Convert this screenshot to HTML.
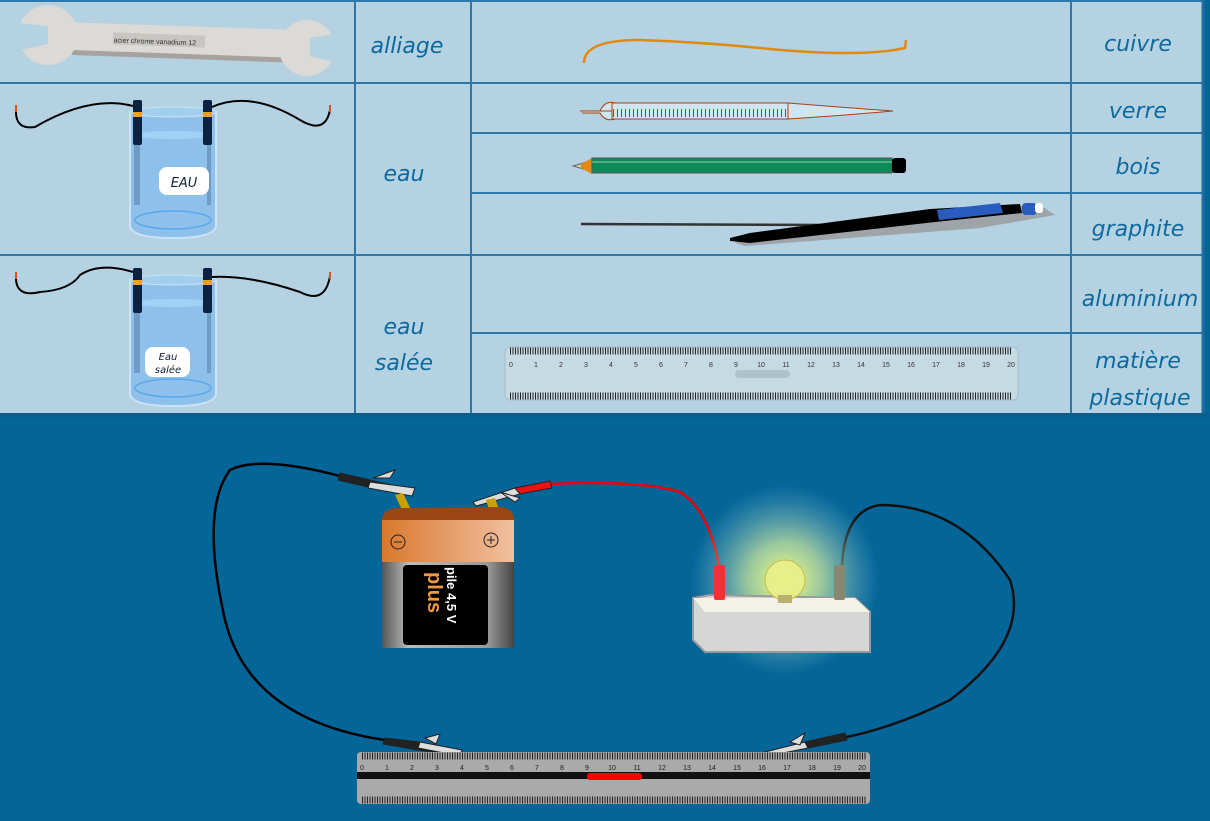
<!DOCTYPE html>
<html><head><meta charset="utf-8"><style>
html,body{margin:0;padding:0;background:#046598;}
svg{display:block}
.t{font-family:"DejaVu Sans","Liberation Sans",sans-serif;font-style:italic;fill:#0e6a9e;font-size:22px;text-anchor:middle}
</style></head><body>
<svg width="1210" height="821" viewBox="0 0 1210 821" xmlns="http://www.w3.org/2000/svg">
<defs>
<radialGradient id="glow" cx="0.5" cy="0.5" r="0.5">
<stop offset="0" stop-color="#f4ff80" stop-opacity="1"/>
<stop offset="0.4" stop-color="#d8f0a0" stop-opacity="0.7"/>
<stop offset="1" stop-color="#8cc6d8" stop-opacity="0"/>
</radialGradient>
<linearGradient id="cop" x1="0" x2="1"><stop offset="0" stop-color="#d9792e"/><stop offset="1" stop-color="#f1c0a0"/></linearGradient>
<linearGradient id="gr" x1="0" x2="1"><stop offset="0" stop-color="#555"/><stop offset="0.2" stop-color="#bbb"/><stop offset="0.8" stop-color="#999"/><stop offset="1" stop-color="#444"/></linearGradient>
</defs>
<rect width="1210" height="821" fill="#046598"/>
<!-- table -->
<rect x="0" y="0" width="1202" height="415" fill="#b4d2e2"/>
<g stroke="#2b78a9" stroke-width="2" fill="none">
<line x1="0" y1="1" x2="1202" y2="1"/>
<line x1="0" y1="83" x2="1202" y2="83"/>
<line x1="0" y1="255" x2="1202" y2="255"/>
<line x1="471" y1="133" x2="1202" y2="133"/>
<line x1="471" y1="193" x2="1202" y2="193"/>
<line x1="471" y1="333" x2="1202" y2="333"/>
<line x1="355" y1="0" x2="355" y2="415"/>
<line x1="471" y1="0" x2="471" y2="415"/>
<line x1="1071" y1="0" x2="1071" y2="415"/>
</g>
<line x1="1203" y1="0" x2="1203" y2="415" stroke="#1f6e9f" stroke-width="3"/>
<rect x="0" y="413" width="1210" height="4" fill="#0a5d8c"/>
<text class="t" x="407" y="53">alliage</text>
<text class="t" x="404" y="181">eau</text>
<text class="t" x="404" y="334">eau</text>
<text class="t" x="404" y="370">salée</text>
<text class="t" x="1138" y="51">cuivre</text>
<text class="t" x="1138" y="118">verre</text>
<text class="t" x="1138" y="174">bois</text>
<text class="t" x="1138" y="236">graphite</text>
<text class="t" x="1140" y="306">aluminium</text>
<text class="t" x="1138" y="368">matière</text>
<text class="t" x="1140" y="405">plastique</text>
<!-- wrench -->
<polygon points="60,22 300,30 300,62 60,52" fill="#dcdad6"/>
<polygon points="72,50 300,58 300,63 72,55" fill="#a8a29e"/>
<circle cx="48" cy="35" r="30" fill="#dcdad6"/>
<polygon points="12,22 48,26 48,44 12,52" fill="#b4d2e2"/>
<polygon points="0,10 18,14 20,20 0,22" fill="#b4d2e2"/>
<circle cx="307" cy="48" r="28" fill="#dcdad6"/>
<polygon points="345,32 310,38 310,56 345,65" fill="#b4d2e2"/>
<rect x="113" y="34" width="92" height="12" fill="#c8c6c0" transform="rotate(2 160 40)"/>
<text x="155" y="44" font-family="Liberation Sans" font-size="7" text-anchor="middle" fill="#333" transform="rotate(2 160 40)">acier chrome vanadium   12</text>
<!-- copper wire -->
<path d="M584,63 Q584,40 640,40 Q700,42 760,48 Q860,58 905,48 L906,40" fill="none" stroke="#e08a10" stroke-width="2.5"/>
<!-- beakers -->
<g id="bk">
<path d="M130,112 L130,225 Q130,238 173,238 Q216,238 216,225 L216,112 Z" fill="#8ec0ec" stroke="#cbe3f6" stroke-width="2"/>
<ellipse cx="173" cy="112" rx="43" ry="5" fill="#a3cfee" stroke="#cbe3f6"/>
<ellipse cx="173" cy="135" rx="40" ry="4" fill="#9fd2f6"/>
<rect x="134" y="140" width="6" height="65" fill="#6e9cc4"/>
<rect x="207" y="140" width="4" height="65" fill="#6e9cc4"/>
<ellipse cx="173" cy="220" rx="38" ry="9" fill="none" stroke="#5aa8e8" stroke-width="1.5"/>
<rect x="133" y="100" width="9" height="45" fill="#0c2240" rx="2"/>
<rect x="203" y="100" width="9" height="45" fill="#0c2240" rx="2"/>
<rect x="133" y="112" width="9" height="5" fill="#f0a020"/>
<rect x="203" y="112" width="9" height="5" fill="#f0a020"/>
</g>
<use href="#bk" transform="translate(0,168)"/>
<path d="M16,110 Q15,130 35,127 Q90,95 133,106" fill="none" stroke="#000" stroke-width="2"/>
<path d="M212,107 Q250,90 300,120 Q325,135 330,110" fill="none" stroke="#000" stroke-width="2"/>
<path d="M16,276 Q15,298 40,292 Q70,290 80,275 Q100,262 133,272" fill="none" stroke="#000" stroke-width="2"/>
<path d="M212,277 Q250,275 300,292 Q325,305 330,276" fill="none" stroke="#000" stroke-width="2"/>
<g stroke="#e05010" stroke-width="2"><line x1="16" y1="105" x2="16" y2="112"/><line x1="330" y1="105" x2="330" y2="112"/><line x1="16" y1="272" x2="16" y2="279"/><line x1="330" y1="272" x2="330" y2="279"/></g>
<rect x="159" y="167" width="50" height="28" rx="8" fill="#fff"/>
<text x="184" y="187" font-family="DejaVu Sans" font-style="italic" font-size="13" fill="#123" text-anchor="middle">EAU</text>
<rect x="145" y="347" width="45" height="30" rx="8" fill="#fff"/>
<text x="168" y="360" font-family="DejaVu Sans" font-style="italic" font-size="10" fill="#123" text-anchor="middle">Eau</text>
<text x="168" y="373" font-family="DejaVu Sans" font-style="italic" font-size="10" fill="#123" text-anchor="middle">salée</text>
<!-- burette -->
<path d="M582,111 L600,111 Q605,100 615,103 L788,103 Q850,108 893,111 Q850,115 788,119 L615,119 Q605,122 600,113 L582,113" fill="#cfe6f2" stroke="#a84010" stroke-width="1"/>
<rect x="612" y="103" width="176" height="16" fill="none" stroke="#a84010"/>
<line x1="613" y1="113" x2="788" y2="113" stroke="#a84010" stroke-width="8" stroke-dasharray="1 3"/>
<line x1="580" y1="111" x2="612" y2="111" stroke="#a84010"/>
<!-- pencil -->
<polygon points="573,166 590,161 590,171" fill="#ccc" stroke="#666"/>
<polygon points="581,164 592,158 592,174 581,168" fill="#e08a10"/>
<rect x="592" y="158" width="300" height="15" fill="#0d8a5a" stroke="#555"/>
<line x1="592" y1="162" x2="892" y2="162" stroke="#8fd0b0"/>
<rect x="892" y="158" width="14" height="15" rx="3" fill="#000"/>
<!-- graphite/pencil -->
<line x1="581" y1="224" x2="830" y2="225" stroke="#333" stroke-width="2.5"/>
<polygon points="735,243 760,233 935,210 1040,205 1055,215 980,228 745,246" fill="#999" opacity="0.8"/>
<polygon points="730,238 750,233 930,209 1020,204 1022,213 935,222 750,243 730,241" fill="#000"/>
<polygon points="937,210 1000,203 1003,213 939,220" fill="#2a5bbf"/>
<rect x="1022" y="203" width="15" height="12" rx="4" fill="#2a5bbf"/>
<rect x="1035" y="203" width="8" height="10" rx="3" fill="#fff"/>
<!-- ruler table -->
<rect x="505" y="347" width="513" height="53" rx="5" fill="#c6dae3" stroke="#aabbc4"/>
<line x1="510" y1="351" x2="1012" y2="351" stroke="#222" stroke-width="7" stroke-dasharray="1 1.5"/>
<line x1="510" y1="396" x2="1012" y2="396" stroke="#222" stroke-width="7" stroke-dasharray="1 1.5"/>
<g font-family="Liberation Sans" font-size="7" fill="#333" text-anchor="middle">
<text x="511" y="367">0</text><text x="536" y="367">1</text><text x="561" y="367">2</text><text x="586" y="367">3</text><text x="611" y="367">4</text><text x="636" y="367">5</text><text x="661" y="367">6</text><text x="686" y="367">7</text><text x="711" y="367">8</text><text x="736" y="367">9</text><text x="761" y="367">10</text><text x="786" y="367">11</text><text x="811" y="367">12</text><text x="836" y="367">13</text><text x="861" y="367">14</text><text x="886" y="367">15</text><text x="911" y="367">16</text><text x="936" y="367">17</text><text x="961" y="367">18</text><text x="986" y="367">19</text><text x="1011" y="367">20</text>
</g>
<rect x="735" y="370" width="55" height="8" rx="4" fill="#aec2cc"/>
<!-- circuit wires -->
<path d="M340,476 Q260,455 230,470 Q200,510 225,620 Q250,720 385,740" fill="none" stroke="#000" stroke-width="2.5"/>
<path d="M548,484 Q640,480 680,492 Q710,510 720,572" fill="none" stroke="#e00" stroke-width="2.5"/>
<path d="M842,565 Q845,510 880,505 Q960,505 1010,580 Q1030,640 950,700 Q880,735 815,742" fill="none" stroke="#111" stroke-width="2.5"/>
<!-- clips -->
<g fill="#ddd" stroke="#222" stroke-width="1">
<polygon points="340,473 370,480 412,490 412,496 368,487 338,480" fill="#222"/>
<polygon points="370,482 415,488 412,496 368,488"/>
<polygon points="373,478 395,470 390,478"/>
<polygon points="473,502 515,488 520,494 476,506"/>
<polygon points="500,492 520,498 515,502"/>
<polygon points="515,488 550,481 552,488 520,494" fill="#e11"/>
<polygon points="385,738 420,742 460,750 458,756 418,750 383,744" fill="#222"/>
<polygon points="420,742 462,750 460,756 418,748"/>
<polygon points="425,738 440,734 436,744"/>
<polygon points="765,752 805,742 808,748 768,756"/>
<polygon points="790,742 805,733 800,745"/>
<polygon points="805,742 845,733 847,740 808,748" fill="#222"/>
</g>
<!-- battery -->
<polygon points="395,495 403,493 412,512 403,512" fill="#c8a000"/>
<polygon points="486,500 495,498 500,512 490,512" fill="#c8a000"/>
<path d="M382,520 Q382,508 400,508 L500,507 Q514,508 514,520 L382,520 Z" fill="#9a4614"/>
<rect x="382" y="520" width="132" height="42" fill="url(#cop)"/>
<rect x="382" y="562" width="132" height="86" fill="url(#gr)"/>
<rect x="403" y="565" width="85" height="80" rx="4" fill="#000"/>
<circle cx="398" cy="542" r="7" fill="none" stroke="#222"/><line x1="394" y1="542" x2="402" y2="542" stroke="#222"/>
<circle cx="491" cy="540" r="7" fill="none" stroke="#222"/><line x1="487" y1="540" x2="495" y2="540" stroke="#222"/><line x1="491" y1="536" x2="491" y2="544" stroke="#222"/>
<text transform="translate(447,567) rotate(90)" font-family="Liberation Sans" font-weight="bold" font-size="13" fill="#fff">pile 4,5 V</text>
<text transform="translate(428,572) rotate(90)" font-family="Liberation Sans" font-weight="bold" font-size="20" fill="#f09a40">plus</text>
<!-- lamp -->
<circle cx="785" cy="580" r="95" fill="url(#glow)"/>
<polygon points="693,598 710,595 855,598 870,612 870,652 705,652 693,640" fill="#d6d6d6" stroke="#999" stroke-width="2"/>
<polygon points="693,598 855,598 870,612 705,612" fill="#f2f2e6"/>
<circle cx="785" cy="580" r="20" fill="#e9f08a" stroke="#c9b840" opacity="0.9"/>
<rect x="778" y="595" width="14" height="8" fill="#b8b070"/>
<rect x="714" y="565" width="11" height="35" rx="2" fill="#e33"/>
<rect x="834" y="565" width="11" height="35" rx="2" fill="#888870"/>
<!-- bottom ruler -->
<rect x="357" y="752" width="513" height="52" rx="4" fill="#aaa"/>
<rect x="357" y="772" width="513" height="7" fill="#111"/>
<line x1="362" y1="756" x2="866" y2="756" stroke="#222" stroke-width="7" stroke-dasharray="1 1.5"/>
<line x1="362" y1="800" x2="866" y2="800" stroke="#222" stroke-width="7" stroke-dasharray="1 1.5"/>
<rect x="587" y="773" width="55" height="7" rx="3" fill="#f00"/>
<g font-family="Liberation Sans" font-size="7" fill="#222" text-anchor="middle">
<text x="362" y="770">0</text><text x="387" y="770">1</text><text x="412" y="770">2</text><text x="437" y="770">3</text><text x="462" y="770">4</text><text x="487" y="770">5</text><text x="512" y="770">6</text><text x="537" y="770">7</text><text x="562" y="770">8</text><text x="587" y="770">9</text><text x="612" y="770">10</text><text x="637" y="770">11</text><text x="662" y="770">12</text><text x="687" y="770">13</text><text x="712" y="770">14</text><text x="737" y="770">15</text><text x="762" y="770">16</text><text x="787" y="770">17</text><text x="812" y="770">18</text><text x="837" y="770">19</text><text x="862" y="770">20</text>
</g>
</svg>
</body></html>
